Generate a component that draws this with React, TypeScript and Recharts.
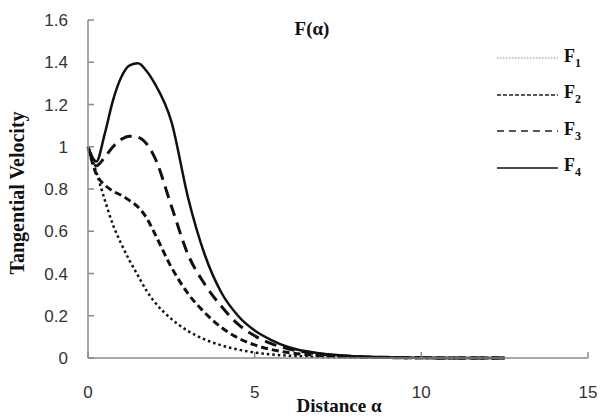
import { LineChart, Line, XAxis, YAxis, Legend } from 'recharts'

const distance = [0, 0.25, 0.5, 0.75, 1, 1.25, 1.5, 1.75, 2, 2.5, 3, 3.5, 4, 4.5, 5, 5.5, 6, 7, 8, 9, 10, 11, 12, 12.5]
const f1 = [1.0, 0.88, 0.75, 0.63, 0.54, 0.46, 0.39, 0.32, 0.265, 0.185, 0.128, 0.088, 0.06, 0.04, 0.026, 0.017, 0.011, 0.005, 0.002, 0.001, 0, 0, 0, 0]
const f2 = [1.0, 0.87, 0.82, 0.79, 0.77, 0.745, 0.715, 0.665, 0.59, 0.43, 0.305, 0.215, 0.145, 0.095, 0.062, 0.04, 0.026, 0.011, 0.005, 0.002, 0.001, 0, 0, 0]
const f3 = [1.0, 0.91, 0.95, 1.0, 1.035, 1.05, 1.045, 1.015, 0.95, 0.72, 0.49, 0.35, 0.245, 0.16, 0.105, 0.068, 0.044, 0.018, 0.007, 0.003, 0.001, 0, 0, 0]
const f4 = [1.0, 0.93, 1.06, 1.22, 1.33, 1.385, 1.395, 1.36, 1.3, 1.12, 0.76, 0.49, 0.31, 0.2, 0.13, 0.085, 0.052, 0.021, 0.008, 0.003, 0.001, 0, 0, 0]

const xTicks = [0, 5, 10, 15]
const yTicks = [0, 0.2, 0.4, 0.6, 0.8, 1, 1.2, 1.4, 1.6]

const series = [
  { key: 'f1', sub: '1', dash: '2.5 3', width: 2.5, legendDash: '1.5 1.5', legendWidth: 1, legendColor: '#888' },
  { key: 'f2', sub: '2', dash: '7 4', width: 3, legendDash: '4 2', legendWidth: 1.5, legendColor: '#222' },
  { key: 'f3', sub: '3', dash: '12 7', width: 3, legendDash: '7 5', legendWidth: 1.5, legendColor: '#222' },
  { key: 'f4', sub: '4', dash: undefined, width: 2.5, legendDash: undefined, legendWidth: 1.5, legendColor: '#111' },
]

const data = distance.map((x, i) => ({ x, f1: f1[i], f2: f2[i], f3: f3[i], f4: f4[i] }))

const serif = '"Liberation Serif", "Times New Roman", serif'
const tickStyle = { fontFamily: '"Liberation Sans", Arial, sans-serif', fontSize: 17, fill: '#333' }

function renderYLabel(props: any) {
  const { viewBox } = props
  const cx = viewBox.x + 17
  const cy = viewBox.y + viewBox.height / 2 + 4
  return (
    <text x={cx} y={cy} transform={`rotate(-90, ${cx}, ${cy})`} textAnchor="middle" dominantBaseline="central"
      fontFamily={serif} fontWeight="bold" fontSize={20} fill="#111">
      Tangential Velocity
    </text>
  )
}

function renderXLabel(props: any) {
  const { viewBox } = props
  const cx = viewBox.x + viewBox.width / 2 + 1
  const cy = viewBox.y + 47
  return (
    <text x={cx} y={cy} textAnchor="middle" dominantBaseline="central"
      fontFamily={serif} fontWeight="bold" fontSize={19} fill="#111">
      Distance α
    </text>
  )
}

function LegendBox(props: any) {
  const { payload } = props
  return (
    <div>
      {(payload || []).map((p: any) => {
        const s = series.find((d) => d.key === p.dataKey)
        if (!s) return null
        return (
          <div key={s.key} style={{ display: 'flex', alignItems: 'center', height: 36.5 }}>
            <svg width={61} height={36.5}>
              <line x1={0} x2={61} y1={18} y2={18} stroke={s.legendColor} strokeWidth={s.legendWidth} strokeDasharray={s.legendDash} />
            </svg>
            <span style={{ marginLeft: 6, fontFamily: serif, fontWeight: 'bold', fontSize: 18, color: '#111' }}>
              F<sub style={{ fontSize: 12 }}>{s.sub}</sub>
            </span>
          </div>
        )
      })}
    </div>
  )
}

export default function App() {
  return (
    <div style={{ position: 'absolute', left: 0, top: 0, width: 600, height: 419, background: '#fff' }}>
      <div style={{ position: 'absolute', left: 262, top: 18, width: 100, textAlign: 'center', fontFamily: serif, fontWeight: 'bold', fontSize: 19, color: '#111', zIndex: 2 }}>
        F(α)
      </div>
      <LineChart width={600} height={419} data={data} margin={{ top: 20, right: 12, left: 0, bottom: 0 }}>
        <XAxis dataKey="x" type="number" domain={[0, 15]} ticks={xTicks} height={61}
          stroke="#8a8a8a" strokeWidth={1.5} tickSize={-6} tickMargin={34} tick={tickStyle} label={renderXLabel} />
        <YAxis type="number" domain={[0, 1.6]} ticks={yTicks} width={88}
          stroke="#8a8a8a" strokeWidth={1.5} tickSize={-6} tickMargin={26} tick={tickStyle} label={renderYLabel} />
        <Legend layout="horizontal" verticalAlign="middle" align="center" content={LegendBox}
          wrapperStyle={{ left: 497, top: 40, width: 100 }} />
        {series.map((s) => (
          <Line key={s.key} dataKey={s.key} type="monotone" stroke="#111" strokeWidth={s.width}
            strokeDasharray={s.dash} dot={false} isAnimationActive={false} />
        ))}
      </LineChart>
    </div>
  )
}
